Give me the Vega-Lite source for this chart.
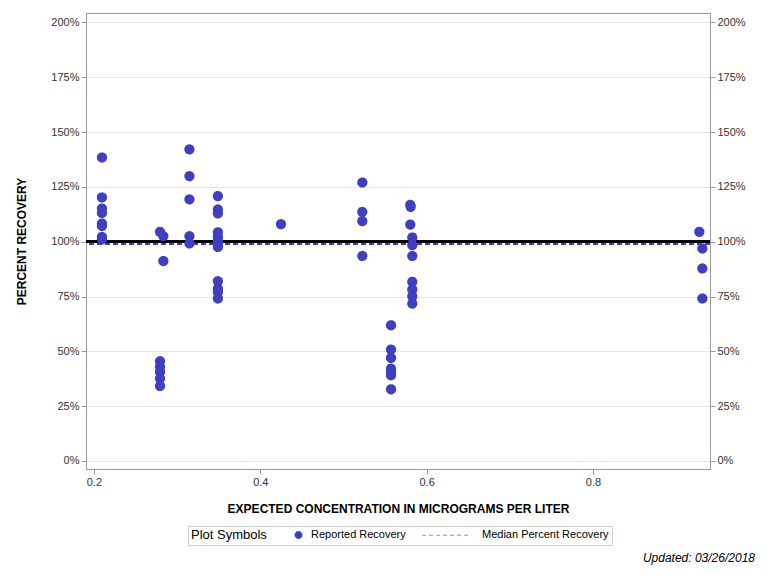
{
  "$schema": "https://vega.github.io/schema/vega-lite/v6.json",
  "autosize": "none",
  "width": 624,
  "height": 456,
  "padding": {"left": 86, "top": 13, "right": 58, "bottom": 107},
  "background": "white",
  "config": {
    "font": "Liberation Sans",
    "view": {"stroke": "#9a9a9a", "strokeWidth": 1},
    "axis": {
      "labelFont": "Liberation Sans",
      "labelFontSize": 11,
      "labelColor": "#333333",
      "domainColor": "#9a9a9a",
      "tickColor": "#9a9a9a",
      "tickSize": 5,
      "gridColor": "#e4e4e4",
      "titleFont": "Liberation Sans",
      "titleFontSize": 12,
      "titleFontWeight": "bold",
      "titleColor": "#000000"
    },
    "title": {"font": "Liberation Sans"}
  },
  "title": {
    "text": "Updated: 03/26/2018",
    "orient": "bottom",
    "anchor": "end",
    "frame": "group",
    "fontSize": 12,
    "fontWeight": "normal",
    "fontStyle": "italic",
    "color": "#000000",
    "offset": 7,
    "dx": 45
  },
  "data": {
    "values": [
      {"conc": 0.2096, "recovery": 138.4, "series": "Reported Recovery"},
      {"conc": 0.2096, "recovery": 120.2, "series": "Reported Recovery"},
      {"conc": 0.2096, "recovery": 115.1, "series": "Reported Recovery"},
      {"conc": 0.2096, "recovery": 113.1, "series": "Reported Recovery"},
      {"conc": 0.2096, "recovery": 108.3, "series": "Reported Recovery"},
      {"conc": 0.2096, "recovery": 107.2, "series": "Reported Recovery"},
      {"conc": 0.2096, "recovery": 102.2, "series": "Reported Recovery"},
      {"conc": 0.2096, "recovery": 101.1, "series": "Reported Recovery"},
      {"conc": 0.2794, "recovery": 104.5, "series": "Reported Recovery"},
      {"conc": 0.2794, "recovery": 45.5, "series": "Reported Recovery"},
      {"conc": 0.2794, "recovery": 42.9, "series": "Reported Recovery"},
      {"conc": 0.2794, "recovery": 40.6, "series": "Reported Recovery"},
      {"conc": 0.2794, "recovery": 37.6, "series": "Reported Recovery"},
      {"conc": 0.2794, "recovery": 34.2, "series": "Reported Recovery"},
      {"conc": 0.2834, "recovery": 102.5, "series": "Reported Recovery"},
      {"conc": 0.2834, "recovery": 91.2, "series": "Reported Recovery"},
      {"conc": 0.3148, "recovery": 142.1, "series": "Reported Recovery"},
      {"conc": 0.3148, "recovery": 129.9, "series": "Reported Recovery"},
      {"conc": 0.3148, "recovery": 119.3, "series": "Reported Recovery"},
      {"conc": 0.3148, "recovery": 102.5, "series": "Reported Recovery"},
      {"conc": 0.3148, "recovery": 99.2, "series": "Reported Recovery"},
      {"conc": 0.349, "recovery": 120.8, "series": "Reported Recovery"},
      {"conc": 0.349, "recovery": 114.7, "series": "Reported Recovery"},
      {"conc": 0.349, "recovery": 112.9, "series": "Reported Recovery"},
      {"conc": 0.349, "recovery": 104.3, "series": "Reported Recovery"},
      {"conc": 0.349, "recovery": 102.2, "series": "Reported Recovery"},
      {"conc": 0.349, "recovery": 100.7, "series": "Reported Recovery"},
      {"conc": 0.349, "recovery": 99.2, "series": "Reported Recovery"},
      {"conc": 0.349, "recovery": 97.6, "series": "Reported Recovery"},
      {"conc": 0.349, "recovery": 82.0, "series": "Reported Recovery"},
      {"conc": 0.349, "recovery": 78.6, "series": "Reported Recovery"},
      {"conc": 0.349, "recovery": 77.0, "series": "Reported Recovery"},
      {"conc": 0.349, "recovery": 74.1, "series": "Reported Recovery"},
      {"conc": 0.4249, "recovery": 108.0, "series": "Reported Recovery"},
      {"conc": 0.5227, "recovery": 127.0, "series": "Reported Recovery"},
      {"conc": 0.5227, "recovery": 113.6, "series": "Reported Recovery"},
      {"conc": 0.5227, "recovery": 109.4, "series": "Reported Recovery"},
      {"conc": 0.5227, "recovery": 93.5, "series": "Reported Recovery"},
      {"conc": 0.5572, "recovery": 61.9, "series": "Reported Recovery"},
      {"conc": 0.5572, "recovery": 50.8, "series": "Reported Recovery"},
      {"conc": 0.5572, "recovery": 47.0, "series": "Reported Recovery"},
      {"conc": 0.5572, "recovery": 42.1, "series": "Reported Recovery"},
      {"conc": 0.5572, "recovery": 40.3, "series": "Reported Recovery"},
      {"conc": 0.5572, "recovery": 39.1, "series": "Reported Recovery"},
      {"conc": 0.5572, "recovery": 32.7, "series": "Reported Recovery"},
      {"conc": 0.5804, "recovery": 116.8, "series": "Reported Recovery"},
      {"conc": 0.5808, "recovery": 115.9, "series": "Reported Recovery"},
      {"conc": 0.5804, "recovery": 107.8, "series": "Reported Recovery"},
      {"conc": 0.5828, "recovery": 101.9, "series": "Reported Recovery"},
      {"conc": 0.5828, "recovery": 98.4, "series": "Reported Recovery"},
      {"conc": 0.5828, "recovery": 93.5, "series": "Reported Recovery"},
      {"conc": 0.5828, "recovery": 81.7, "series": "Reported Recovery"},
      {"conc": 0.5828, "recovery": 78.2, "series": "Reported Recovery"},
      {"conc": 0.5828, "recovery": 75.1, "series": "Reported Recovery"},
      {"conc": 0.5828, "recovery": 71.8, "series": "Reported Recovery"},
      {"conc": 0.928, "recovery": 104.5, "series": "Reported Recovery"},
      {"conc": 0.9316, "recovery": 96.9, "series": "Reported Recovery"},
      {"conc": 0.9316, "recovery": 87.8, "series": "Reported Recovery"},
      {"conc": 0.9316, "recovery": 74.1, "series": "Reported Recovery"}
    ]
  },
  "layer": [
    {
      "mark": {"type": "rule", "color": "#000000", "strokeWidth": 2},
      "encoding": {
        "y": {
          "datum": 100,
          "type": "quantitative",
          "scale": {"domain": [-3.65, 204.3], "nice": false, "zero": false},
          "axis": {
            "orient": "left",
            "values": [0, 25, 50, 75, 100, 125, 150, 175, 200],
            "labelExpr": "datum.value + '%'",
            "grid": true,
            "title": "PERCENT RECOVERY",
            "titlePadding": 22
          }
        }
      }
    },
    {
      "mark": {"type": "rule", "color": "#3f3fbf", "strokeWidth": 2, "strokeDash": [5, 3]},
      "encoding": {
        "y": {
          "datum": 98.9,
          "type": "quantitative",
          "axis": {
            "orient": "right",
            "values": [0, 25, 50, 75, 100, 125, 150, 175, 200],
            "labelExpr": "datum.value + '%'",
            "grid": false,
            "title": null
          }
        }
      }
    },
    {
      "mark": {"type": "point", "filled": true, "opacity": 1, "size": 68},
      "encoding": {
        "x": {
          "field": "conc",
          "type": "quantitative",
          "scale": {"domain": [0.1904, 0.9408], "nice": false, "zero": false},
          "axis": {
            "values": [0.2, 0.4, 0.6, 0.8],
            "format": ".1f",
            "grid": false,
            "title": "EXPECTED CONCENTRATION IN MICROGRAMS PER LITER",
            "titlePadding": 16
          }
        },
        "y": {"field": "recovery", "type": "quantitative", "axis": null},
        "color": {
          "field": "series",
          "type": "nominal",
          "scale": {
            "domain": ["Reported Recovery", "Median Percent Recovery"],
            "range": ["#3f3fbf", "#8c8ce6"]
          },
          "legend": {
            "orient": "none",
            "legendX": 102,
            "legendY": 513,
            "direction": "horizontal",
            "title": "Plot Symbols",
            "titleOrient": "left",
            "titleFontSize": 13,
            "titleFontWeight": "normal",
            "titleColor": "#000000",
            "titlePadding": 26,
            "labelFontSize": 11,
            "labelColor": "#000000",
            "symbolSize": 50,
            "symbolStrokeWidth": 1,
            "labelOffset": 7,
            "columnPadding": 14,
            "strokeColor": "#cccccc",
            "padding": 3
          }
        },
        "stroke": {
          "field": "series",
          "type": "nominal",
          "scale": {
            "domain": ["Reported Recovery", "Median Percent Recovery"],
            "range": ["#3f3fbf", "#8c8ce6"]
          }
        },
        "shape": {
          "field": "series",
          "type": "nominal",
          "scale": {
            "domain": ["Reported Recovery", "Median Percent Recovery"],
            "range": ["circle", "M-13.4,0H-0.1"]
          }
        },
        "strokeDash": {
          "field": "series",
          "type": "nominal",
          "scale": {
            "domain": ["Reported Recovery", "Median Percent Recovery"],
            "range": [[1, 0], [4, 3]]
          }
        }
      }
    }
  ],
  "resolve": {"axis": {"y": "independent"}}
}
